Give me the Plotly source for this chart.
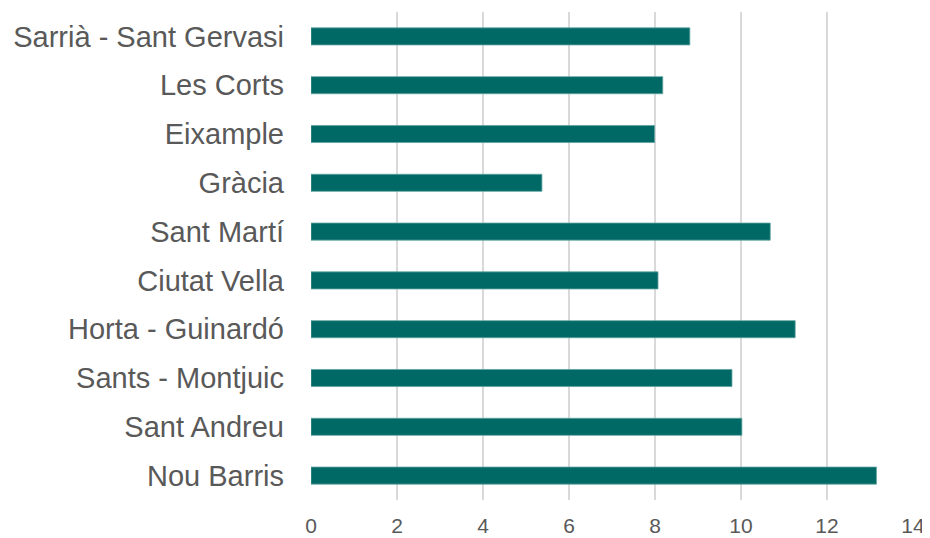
import plotly.graph_objects as go

districts = ["Sarrià - Sant Gervasi", "Les Corts", "Eixample", "Gràcia", "Sant Martí",
             "Ciutat Vella", "Horta - Guinardó", "Sants - Montjuic", "Sant Andreu", "Nou Barris"]
values = [8.81, 8.18, 7.99, 5.37, 10.68, 8.07, 11.26, 9.79, 10.02, 13.15]
x_ticks = [0, 2, 4, 6, 8, 10, 12, 14]

fig = go.Figure(go.Bar(
    x=values, y=districts, orientation="h",
    marker=dict(color="#006865", line=dict(color="#5fa3a0", width=0.8)),
    width=0.35,
))

# page body adds an 8px offset, so the figure is sized to fill the rest of the window
fig.update_layout(
    width=922, height=530,
    margin=dict(l=303, r=17, t=4, b=38, autoexpand=False),
    plot_bgcolor="white", paper_bgcolor="white",
    font=dict(family="Liberation Sans, Arial, sans-serif", size=21, color="#595959"),
    showlegend=False,
    xaxis=dict(range=[0, 14], tickvals=x_ticks, showgrid=True, gridcolor="#d9d9d9",
               gridwidth=1.5, zeroline=False, showline=False, ticks="",
               ticklabelstandoff=11, tickfont=dict(size=21), automargin=False),
    yaxis=dict(autorange="reversed", showgrid=False, zeroline=False, showline=False,
               ticks="", ticklabelstandoff=26, tickfont=dict(size=29), automargin=False),
)

fig.write_html("out.html")
